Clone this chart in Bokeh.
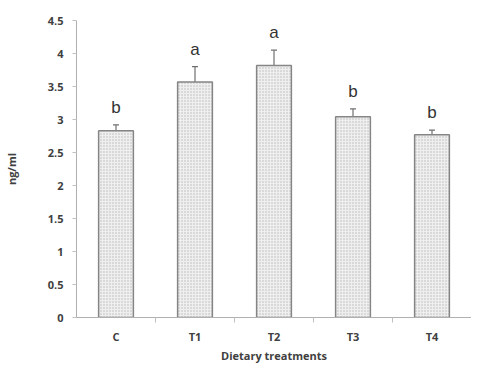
import numpy as np
from bokeh.plotting import figure
from bokeh.models import ColumnDataSource, Whisker, FixedTicker, TeeHead, Range1d
from bokeh.embed import file_html
from bokeh.resources import INLINE

categories = ["C", "T1", "T2", "T3", "T4"]
means = [2.83, 3.57, 3.82, 3.04, 2.77]
errors = [0.09, 0.23, 0.23, 0.12, 0.07]
letters = ["b", "a", "a", "b", "b"]
y_ticks = [0, 0.5, 1, 1.5, 2, 2.5, 3, 3.5, 4, 4.5]
x_title = "Dietary treatments"
y_title = "ng/ml"

xs = np.arange(len(categories)) + 0.5
m = np.array(means)
e = np.array(errors)
src = ColumnDataSource(dict(x=xs, top=m, upper=m + e, lower=m - e, lab=letters))

FONT = "Open Sans"
TXT = "#404040"
p = figure(width=471, height=365, output_backend="svg", toolbar_location=None,
           x_range=Range1d(0, len(categories)), y_range=Range1d(0, 4.5),
           min_border_left=75, min_border_right=0, min_border_top=20, min_border_bottom=40)
p.outline_line_color = None
p.xgrid.visible = False
p.ygrid.visible = False

p.vbar(x="x", top="top", width=0.44, bottom=0, source=src,
       fill_color="#efefef", line_color="#858585", line_width=1.5,
       hatch_pattern="dot", hatch_color="#b8b8b8", hatch_scale=3, hatch_weight=1)

w = Whisker(base="x", upper="upper", lower="lower", source=src,
            line_color="#707070", line_width=1.2,
            upper_head=TeeHead(size=6, line_color="#707070", line_width=1.2),
            lower_head=TeeHead(size=6, line_color="#707070", line_width=1.2))
p.add_layout(w)

p.text(x="x", y="upper", text="lab", source=src, text_align="center",
       text_baseline="bottom", y_offset=-8, text_font_size="17px",
       text_color="#333333")

# x axis
p.xaxis.ticker = FixedTicker(ticks=list(xs), minor_ticks=[1, 2, 3, 4])
p.xaxis.major_label_overrides = {float(x): c for x, c in zip(xs, categories)}
p.xaxis.major_tick_line_color = None
p.xaxis.minor_tick_out = 5
p.xaxis.minor_tick_in = 0
p.xaxis.minor_tick_line_color = "#c0c0c0"
p.xaxis.axis_line_color = "#b0b0b0"
p.xaxis.major_label_standoff = 5
p.xaxis.major_label_text_font = FONT
p.xaxis.major_label_text_font_style = "bold"
p.xaxis.major_label_text_font_size = "11px"
p.xaxis.major_label_text_color = TXT
p.xaxis.axis_label = x_title
p.xaxis.axis_label_text_font = FONT
p.xaxis.axis_label_text_font_style = "bold"
p.xaxis.axis_label_text_font_size = "11px"
p.xaxis.axis_label_text_color = TXT
p.xaxis.axis_label_standoff = 1

# y axis
p.yaxis.ticker = FixedTicker(ticks=y_ticks)
p.yaxis.major_label_overrides = {t: ("%g" % t) for t in y_ticks}
p.yaxis.minor_tick_line_color = None
p.yaxis.major_tick_out = 4
p.yaxis.major_tick_in = 0
p.yaxis.major_tick_line_color = "#c0c0c0"
p.yaxis.axis_line_color = "#b0b0b0"
p.yaxis.major_label_standoff = 9
p.yaxis.major_label_text_font = FONT
p.yaxis.major_label_text_font_style = "bold"
p.yaxis.major_label_text_font_size = "11px"
p.yaxis.major_label_text_color = TXT
p.yaxis.axis_label = y_title
p.yaxis.axis_label_text_font = FONT
p.yaxis.axis_label_text_font_style = "bold"
p.yaxis.axis_label_text_font_size = "11px"
p.yaxis.axis_label_text_color = TXT
p.yaxis.axis_label_standoff = 26

open("out.html", "w").write(file_html(p, INLINE))
